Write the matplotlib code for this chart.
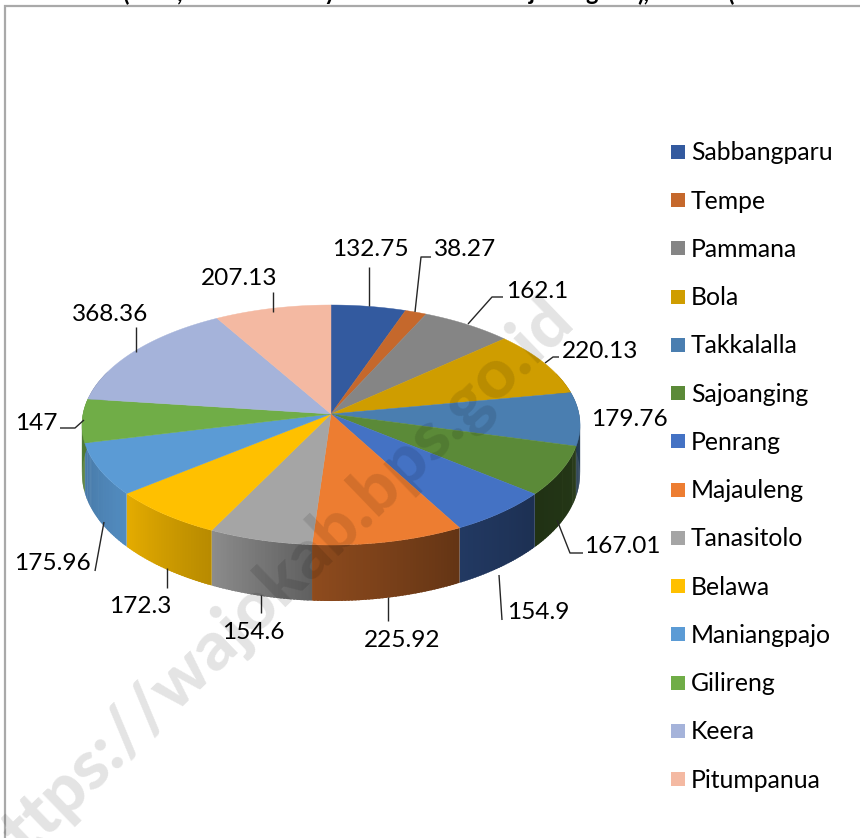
import numpy as np
import matplotlib
matplotlib.use("Agg")
import matplotlib.pyplot as plt
from matplotlib.colors import to_rgb
from matplotlib.patches import Polygon, Rectangle

names = ["Sabbangparu", "Tempe", "Pammana", "Bola", "Takkalalla", "Sajoanging", "Penrang",
         "Majauleng", "Tanasitolo", "Belawa", "Maniangpajo", "Gilireng", "Keera", "Pitumpanua"]
values = [132.75, 38.27, 162.1, 220.13, 179.76, 167.01, 154.9,
          225.92, 154.6, 172.3, 175.96, 147, 368.36, 207.13]
value_labels = ["132.75", "38.27", "162.1", "220.13", "179.76", "167.01", "154.9",
                "225.92", "154.6", "172.3", "175.96", "147", "368.36", "207.13"]
colors = ["#335a9f", "#c5682c", "#858585", "#cf9d00", "#4a7eb0", "#5b8a38", "#4472c4",
          "#ed7d31", "#a5a5a5", "#ffc000", "#5b9bd5", "#70ad47", "#a5b3da", "#f4b9a2"]
# brightness of the side wall at the slice's start and end angle (clockwise)
side_shade = [(.5, .5), (.5, .5), (.5, .5), (.5, .5), (.55, .45), (.4, .36), (.42, .5),
              (.42, .6), (.58, .85), (.72, .9), (.9, .78), (.7, .7), (.6, .6), (.6, .6)]

label_xy = [(370, 249), (465, 249), (537, 291), (600, 351), (629, 419), (622, 546), (538, 612),
            (402, 640), (253, 632), (140, 606), (52, 563), (36, 423), (110, 314), (239, 278)]
leaders = [[(369, 267), (369, 306)],
           [(415, 312), (421, 257), (431, 257)],
           [(468, 324), (492, 297), (503, 297)],
           [(545, 363), (553, 357), (559, 357)],
           [],
           [(557, 520), (570, 553), (583, 553)],
           [(499, 575), (502, 620)],
           [(388, 597), (388, 621)],
           [(261, 595), (261, 613)],
           [(167, 568), (167, 588)],
           [(104, 522), (95, 571)],
           [(60, 428), (75, 428), (84, 420)],
           [(136, 327), (136, 352)],
           [(273, 292), (273, 312)]]
title_bits = [("(", 125), (",", 180), ("y", 330), ("j", 532), ("g", 592), ("),", 643), ("(", 730)]

CX, CY = 331, 414
A, B, K = 248, 119, 0.0917
FONT = "Lato"


def top_xy(theta):
    X, Y = np.sin(theta), np.cos(theta)
    w = 1 + K * Y
    return CX + A * X / w, CY - B * Y / w


def depth(theta):
    return 48 - 8 * np.cos(theta)


fig = plt.figure(figsize=(8.6, 8.38), dpi=100, facecolor="white")
ax = fig.add_axes([0, 0, 1, 1])
ax.set_xlim(0, 860)
ax.set_ylim(838, 0)
ax.axis("off")

ax.add_patch(Rectangle((5, 6.5), 900, 900, fc="white", ec="#a9a9a9", lw=1.6, zorder=0))
for s, x in title_bits:
    ax.text(x, -7, s, ha="center", va="center", fontsize=17, fontweight="bold",
            family=FONT, color="black", zorder=1)

edges = np.cumsum([0] + values) / sum(values) * 2 * np.pi

# side walls: strips overlap the next one so no seams show
for i, col in enumerate(colors):
    t0, t1 = edges[i], edges[i + 1]
    n = max(int((t1 - t0) * 80), 2)
    ts = np.linspace(t0, t1, n + 1)
    step = ts[1] - ts[0]
    base = np.array(to_rgb(col))
    s0, s1 = side_shade[i]
    for j in range(n):
        a, b = ts[j], ts[j + 1]
        if np.cos(a) > 0.35 and np.cos(b) > 0.35:
            continue
        if j < n - 1:
            b = b + step * 0.6
        xa, ya = top_xy(a)
        xb, yb = top_xy(b)
        f = s0 + (s1 - s0) * (j + .5) / n
        ax.add_patch(Polygon([(xa, ya), (xb, yb), (xb, yb + depth(b)), (xa, ya + depth(a))],
                             fc=base * f, ec="none", zorder=2))

# top faces
for i, col in enumerate(colors):
    ts = np.linspace(edges[i], edges[i + 1], 80)
    xs, ys = top_xy(ts)
    pts = [(CX, CY)] + list(zip(xs, ys))
    ax.add_patch(Polygon(pts, fc=col, ec=col, lw=.3, zorder=3))

# leaders and data labels
for pts, lab, (x, y) in zip(leaders, value_labels, label_xy):
    if pts:
        ax.plot(*zip(*pts), color="#262626", lw=1.0, zorder=4, solid_capstyle="butt")
    ax.text(x, y, lab, ha="center", va="center", fontsize=17.6, family=FONT, color="black", zorder=5)

# legend
legend_y = np.linspace(152, 779, len(names))
for nm, col, y in zip(names, colors, legend_y):
    ax.add_patch(Rectangle((671, y - 7), 14, 14, fc=col, ec="none", zorder=5))
    ax.text(691, y + 1, nm, ha="left", va="center", fontsize=17.8, family=FONT, color="black", zorder=5)

# watermark
ax.text(274, 589, "https://wajokab.bps.go.id", rotation=44, rotation_mode="anchor",
        ha="center", va="center", fontsize=50, fontweight="black", family="Lato",
        color="black", alpha=0.11, zorder=6, clip_on=True)

fig.savefig("out.png", dpi=100, facecolor="white")
